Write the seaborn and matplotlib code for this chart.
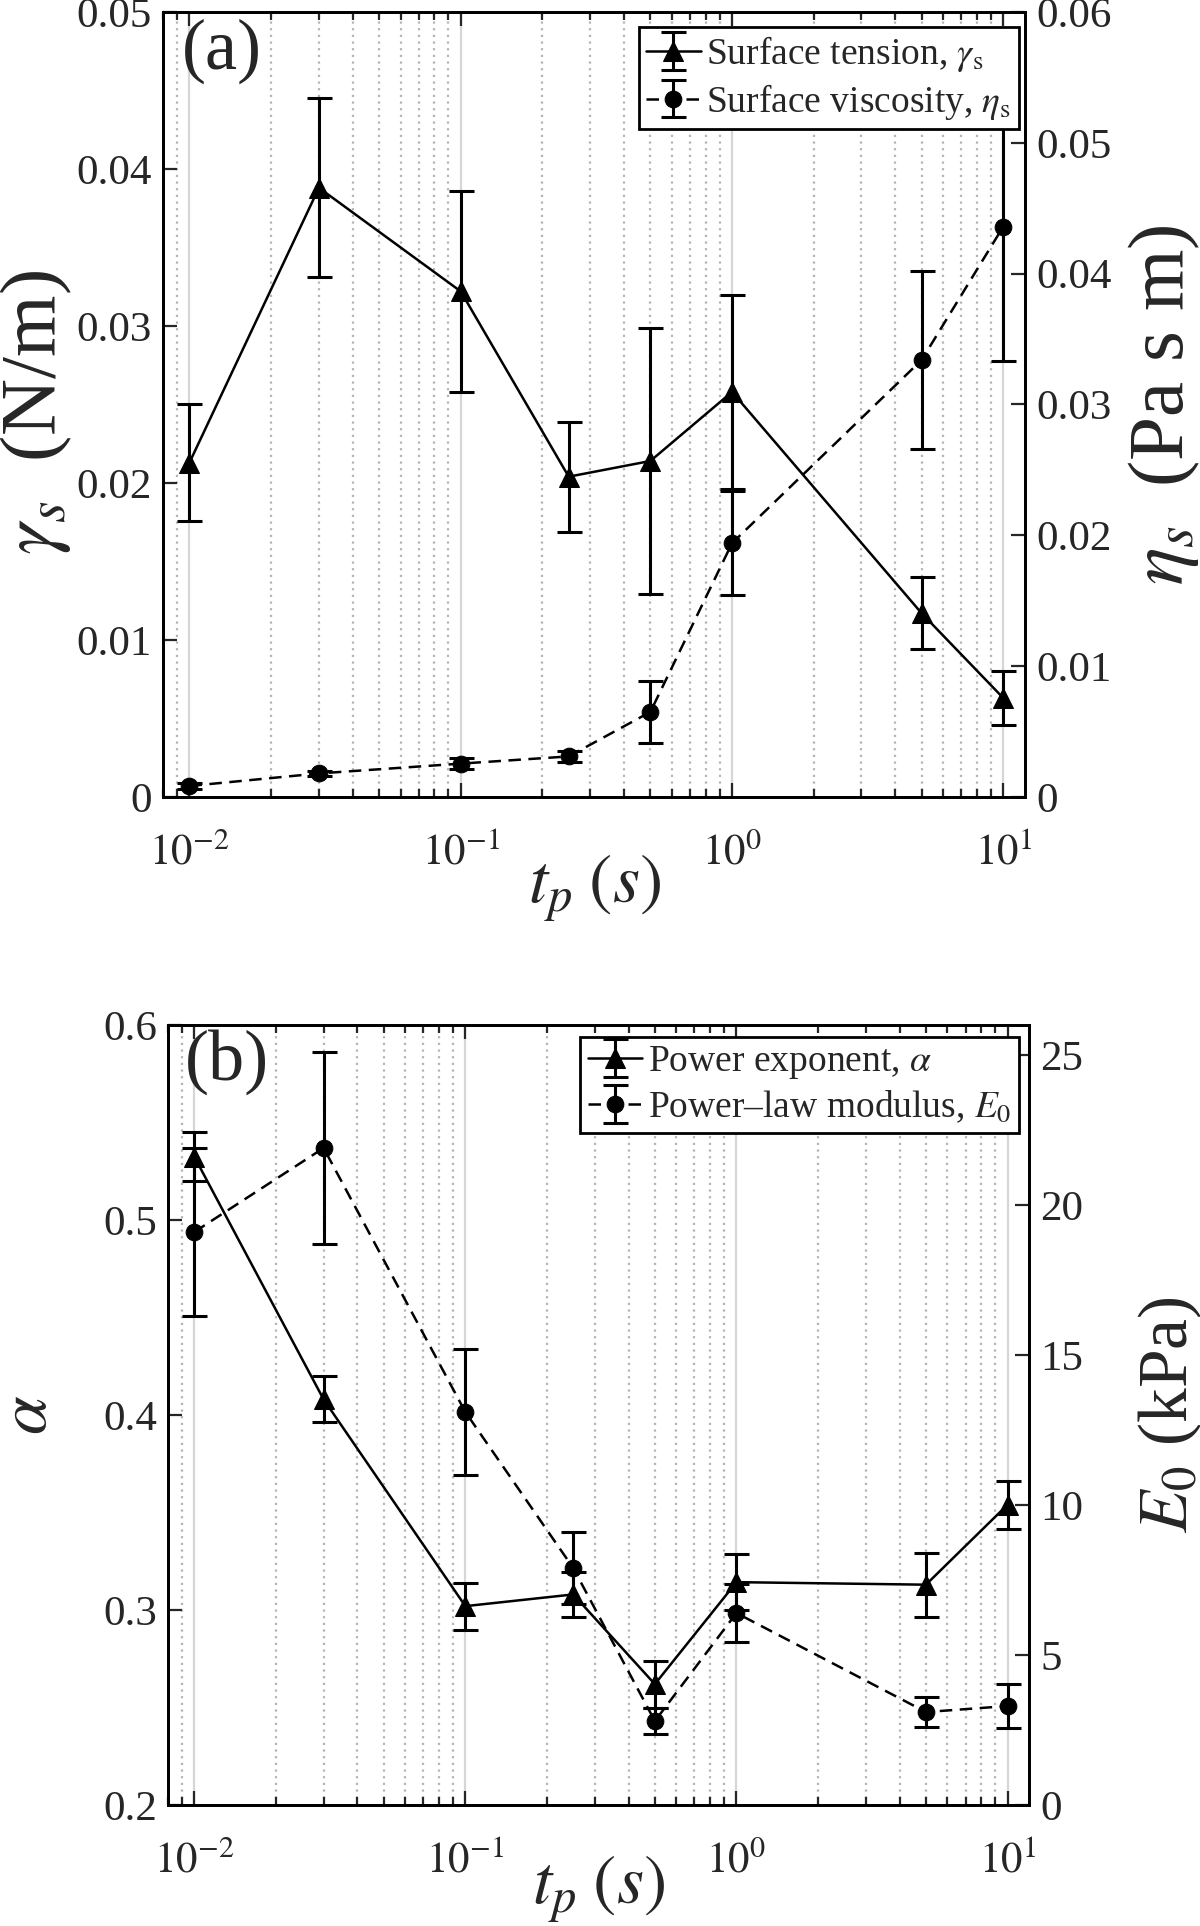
import matplotlib
matplotlib.use("Agg")
import matplotlib.pyplot as plt
import seaborn as sns
from matplotlib.legend_handler import HandlerTuple
from matplotlib.ticker import LogLocator, FixedLocator, FixedFormatter, NullFormatter

# pulse time (s)
tp = [0.01, 0.03, 0.1, 0.25, 0.5, 1, 5, 10]

# panel (a)
gamma_s = [0.0213, 0.0388, 0.0322, 0.0204, 0.0214, 0.0258, 0.0117, 0.0063]
gamma_s_err = [0.0037, 0.0057, 0.0064, 0.0035, 0.0085, 0.0062, 0.0023, 0.0017]
eta_s = [0.00084, 0.0018, 0.00255, 0.0031, 0.0065, 0.0194, 0.0334, 0.0436]
eta_s_err = [0.0002, 0.0002, 0.0004, 0.0004, 0.0024, 0.0040, 0.0068, 0.0103]

# panel (b)
alpha = [0.5325, 0.408, 0.302, 0.308, 0.262, 0.3143, 0.313, 0.354]
alpha_err = [0.0127, 0.0118, 0.012, 0.0116, 0.012, 0.0145, 0.0165, 0.0123]
E0 = [19.1, 21.9, 13.1, 7.9, 2.8, 6.4, 3.1, 3.3]
E0_err = [2.8, 3.2, 2.1, 1.2, 0.42, 0.97, 0.5, 0.72]

# tick labels
gamma_ticks = ["0", "0.01", "0.02", "0.03", "0.04", "0.05"]
eta_ticks = ["0", "0.01", "0.02", "0.03", "0.04", "0.05", "0.06"]
alpha_ticks = ["0.2", "0.3", "0.4", "0.5", "0.6"]
E0_ticks = ["0", "5", "10", "15", "20", "25"]
x_ticks = [r"$10^{-2}$", r"$10^{-1}$", r"$10^{0}$", r"$10^{1}$"]

sns.set_theme(style="ticks")
plt.rcParams["font.family"] = ["Liberation Serif", "DejaVu Serif"]
plt.rcParams["mathtext.fontset"] = "stix"

TICK_FS = 31
LABEL_FS = 50
LEG_FS = 27

fig = plt.figure(figsize=(12, 19.26), dpi=100)
ax_a = fig.add_axes([0.136, 0.5862, 0.718, 0.4076])
ax_b = fig.add_axes([0.14, 0.0628, 0.7175, 0.405])


def style_x(ax):
    ax.set_xscale("log")
    ax.set_xlim(0.008, 12)
    ax.xaxis.set_major_locator(FixedLocator([0.01, 0.1, 1, 10]))
    ax.xaxis.set_major_formatter(FixedFormatter(x_ticks))
    ax.xaxis.set_minor_locator(LogLocator(base=10, subs=range(2, 10), numticks=20))
    ax.xaxis.set_minor_formatter(NullFormatter())
    ax.grid(which="major", axis="x", color="#d6d6d6", lw=1.6, ls="-")
    ax.grid(which="minor", axis="x", color="#b4b4b4", lw=1.6, ls=(0, (1, 2)))
    ax.set_axisbelow(True)
    ax.tick_params(which="both", direction="in", top=True, bottom=True,
                   width=1.6)
    ax.tick_params(axis="x", which="major", length=10, labelsize=TICK_FS, pad=26)
    ax.tick_params(axis="x", which="minor", length=6)
    for s in ax.spines.values():
        s.set_linewidth(2)
        s.set_color("black")


def style_y(ax, lim, ticks, labels):
    ax.set_ylim(*lim)
    ax.yaxis.set_major_locator(FixedLocator(ticks))
    ax.yaxis.set_major_formatter(FixedFormatter(labels))
    ax.tick_params(axis="y", direction="in", length=10, width=1.6,
                   labelsize=TICK_FS, pad=8)
    for s in ax.spines.values():
        s.set_linewidth(2)
        s.set_color("black")


def series(ax, y, err, marker, ls, ms):
    sns.lineplot(x=tp, y=y, ax=ax, color="black", lw=1.8, linestyle=ls,
                 marker=marker, markersize=ms, markeredgecolor="black",
                 markerfacecolor="black", errorbar=None)
    line = ax.get_lines()[-1]
    eb = ax.errorbar(tp, y, yerr=err, fmt="none", ecolor="black",
                     elinewidth=2.2, capsize=9, capthick=2.2)
    return line, eb


def make_legend(ax, handles, labels, anchor):
    leg = ax.legend(handles, labels,
                    handler_map={tuple: HandlerTuple(ndivide=1)},
                    loc="upper right", bbox_to_anchor=anchor,
                    borderaxespad=0, fontsize=LEG_FS, frameon=True,
                    fancybox=False, framealpha=1, edgecolor="black",
                    handlelength=1.45, handletextpad=0.15, borderpad=0.2,
                    labelspacing=0.2)
    leg.get_frame().set_linewidth(2)
    return leg


dash = (0, (5, 3))

# ---- panel (a)
style_x(ax_a)
ax_ar = ax_a.twinx()
style_y(ax_a, (0, 0.05), [0, 0.01, 0.02, 0.03, 0.04, 0.05], gamma_ticks)
style_y(ax_ar, (0, 0.06), [0, 0.01, 0.02, 0.03, 0.04, 0.05, 0.06], eta_ticks)
la, ea = series(ax_a, gamma_s, gamma_s_err, "^", "-", 15)
lb, eb = series(ax_ar, eta_s, eta_s_err, "o", dash, 12)
ax_a.set_xlabel(r"$t_p\;(s)$", fontsize=LABEL_FS)
ax_a.set_ylabel(r"$\gamma_s\;$ (N/m)", fontsize=57)
ax_ar.set_ylabel(r"$\eta_s\;$ (Pa s m)", fontsize=57, rotation=90)
ax_a.xaxis.set_label_coords(0.5, -0.071)
ax_a.yaxis.set_label_coords(-0.104, 0.49)
ax_ar.yaxis.set_label_coords(1.118, 0.5)
ax_a.text(0.022, 0.992, "(a)", transform=ax_a.transAxes, fontsize=52,
          va="top", ha="left")
make_legend(ax_ar, [(la, ea), (lb, eb)],
            ["Surface tension, $\\gamma_\\mathrm{s}$",
             "Surface viscosity, $\\eta_\\mathrm{s}$"],
            (0.993, 0.981))

# ---- panel (b)
style_x(ax_b)
ax_br = ax_b.twinx()
style_y(ax_b, (0.2, 0.6), [0.2, 0.3, 0.4, 0.5, 0.6], alpha_ticks)
style_y(ax_br, (0, 26), [0, 5, 10, 15, 20, 25], E0_ticks)
lc, ec = series(ax_b, alpha, alpha_err, "^", "-", 15)
ld, ed = series(ax_br, E0, E0_err, "o", dash, 12)
ax_b.set_xlabel(r"$t_p\;(s)$", fontsize=LABEL_FS)
ax_b.set_ylabel(r"$\alpha$", fontsize=LABEL_FS)
ax_br.set_ylabel(r"$E_0$ (kPa)", fontsize=LABEL_FS, rotation=90)
ax_b.xaxis.set_label_coords(0.5, -0.062)
ax_b.yaxis.set_label_coords(-0.124, 0.5)
ax_br.yaxis.set_label_coords(1.124, 0.5)
ax_b.text(0.02, 0.995, "(b)", transform=ax_b.transAxes, fontsize=52,
          va="top", ha="left")
make_legend(ax_br, [(lc, ec), (ld, ed)],
            [r"Power exponent, $\alpha$",
             "Power\u2013law modulus, $E_0$"],
            (0.988, 0.985))

fig.savefig("out.png", dpi=100)
